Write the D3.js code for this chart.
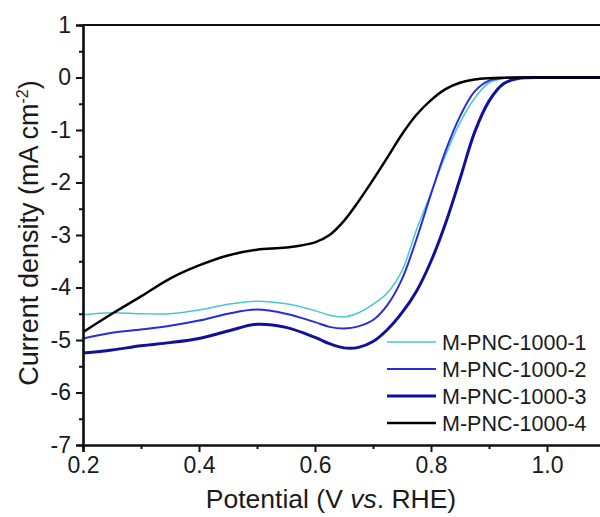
<!DOCTYPE html>
<html>
<head>
<meta charset="utf-8">
<script src="https://cdn.jsdelivr.net/npm/d3@7"></script>
<style>
  body { margin: 0; background: #fff; }
  svg text { font-family: "Liberation Sans", Arial, sans-serif; fill: #1a1a1a; }
</style>
</head>
<body>
<div class="chart"></div>
<script>
const potential = [0.20, 0.25, 0.30, 0.35, 0.40, 0.45, 0.50, 0.55, 0.60, 0.625, 0.65, 0.675, 0.70,
    0.725, 0.75, 0.775, 0.80, 0.825, 0.85, 0.875, 0.90, 0.925, 0.95, 1.00, 1.05, 1.10];

const pnc1 = [-4.52, -4.48, -4.50, -4.50, -4.43, -4.32, -4.26, -4.31, -4.44, -4.53, -4.56, -4.48, -4.32,
    -4.10, -3.68, -2.90, -2.20, -1.48, -0.86, -0.40, -0.10, -0.02, 0, 0, 0, 0];
const pnc2 = [-4.97, -4.86, -4.80, -4.73, -4.63, -4.50, -4.42, -4.50, -4.66, -4.75, -4.78, -4.74, -4.62,
    -4.33, -3.84, -3.08, -2.22, -1.40, -0.74, -0.27, -0.06, -0.01, 0, 0, 0, 0];
const pnc3 = [-5.25, -5.19, -5.11, -5.05, -4.97, -4.83, -4.70, -4.76, -4.95, -5.07, -5.15, -5.14, -5.03,
    -4.80, -4.48, -4.07, -3.50, -2.78, -1.93, -1.05, -0.45, -0.12, -0.02, 0, 0, 0];
const pnc4 = [-4.85, -4.50, -4.17, -3.83, -3.58, -3.39, -3.28, -3.24, -3.14, -3.00, -2.73, -2.36, -1.95,
    -1.52, -1.08, -0.71, -0.43, -0.22, -0.10, -0.04, -0.015, -0.005, 0, 0, 0, 0];

const seriesNames = ['M-PNC-1000-1', 'M-PNC-1000-2', 'M-PNC-1000-3', 'M-PNC-1000-4'];
const seriesValues = [pnc1, pnc2, pnc3, pnc4];
const seriesColors = ['#45c8d2', '#2a2ae0', '#10109c', '#000000'];
const seriesWidths = [1.5, 2, 3, 2.5];

const xTicks = [0.2, 0.4, 0.6, 0.8, 1.0];
const yTicks = [1, 0, -1, -2, -3, -4, -5, -6, -7];

const width = 600, height = 517;
const svg = d3.select('.chart').append('svg')
    .attr('width', width)
    .attr('height', height);

// plot area: 0.2 V at 83px, 1.0 V at 547px; +1 at 25px, -7 at 445px
const x = d3.scaleLinear().domain([0.2, 1.1]).range([83, 605]);
const y = d3.scaleLinear().domain([-7, 1]).range([445, 25]);

svg.append('clipPath').attr('id', 'plot')
    .append('rect').attr('x', 83).attr('y', 25).attr('width', 522).attr('height', 420);

const line = d3.line()
    .x((d, i) => x(potential[i]))
    .y(d => y(d))
    .curve(d3.curveCatmullRom.alpha(0.5));

svg.append('g').attr('clip-path', 'url(#plot)')
    .selectAll('path')
    .data(seriesValues)
    .enter()
    .append('path')
    .attr('d', d => line(d))
    .attr('fill', 'none')
    .attr('stroke', (d, i) => seriesColors[i])
    .attr('stroke-width', (d, i) => seriesWidths[i])
    .attr('stroke-linejoin', 'round');

// axes
const xAxis = svg.append('g')
    .attr('transform', `translate(0,${y(-7)})`)
    .call(d3.axisBottom(x).tickValues(xTicks).tickFormat(d3.format('.1f')).tickSize(7).tickPadding(5));
const xMinor = svg.append('g')
    .attr('transform', `translate(0,${y(-7)})`)
    .call(d3.axisBottom(x).tickValues([0.3, 0.5, 0.7, 0.9, 1.1]).tickFormat('').tickSize(4));

const yAxis = svg.append('g')
    .attr('transform', `translate(${x(0.2)},0)`)
    .call(d3.axisLeft(y).tickValues(yTicks).tickFormat(d3.format('d')).tickSize(7).tickPadding(5));
const yMinor = svg.append('g')
    .attr('transform', `translate(${x(0.2)},0)`)
    .call(d3.axisLeft(y).tickValues(d3.range(-6.5, 1, 1)).tickFormat('').tickSize(4));

[xAxis, xMinor, yAxis, yMinor].forEach(g => {
    g.select('.domain').attr('stroke', '#111').attr('stroke-width', 2.2);
    g.selectAll('.tick line').attr('stroke', '#111').attr('stroke-width', 2);
    g.selectAll('.tick text').attr('font-size', 23).attr('fill', '#1a1a1a')
        .style('font-family', '"Liberation Sans", Arial, sans-serif');
});
yAxis.selectAll('.tick text').text(d => d < 0 ? '-' + Math.abs(d) : d);

// top frame line
svg.append('line')
    .attr('x1', x(0.2)).attr('x2', width)
    .attr('y1', y(1)).attr('y2', y(1))
    .attr('stroke', '#111').attr('stroke-width', 2.2);

// axis titles
svg.append('text')
    .attr('x', 331).attr('y', 508)
    .attr('text-anchor', 'middle')
    .attr('font-size', 26.5)
    .html('Potential (V <tspan font-style="italic">vs</tspan>. RHE)');

const yt = svg.append('text')
    .attr('transform', 'translate(38,233) rotate(-90)')
    .attr('text-anchor', 'middle')
    .attr('font-size', 27);
yt.append('tspan').text('Current density (mA cm');
yt.append('tspan').attr('font-size', 16).attr('dy', -10).text('-2');
yt.append('tspan').attr('dy', 10).text(')');

// legend
const legend = svg.append('g');
seriesNames.forEach((name, i) => {
    const ly = 342 + i * 27;
    legend.append('line')
        .attr('x1', 387).attr('x2', 436)
        .attr('y1', ly).attr('y2', ly)
        .attr('stroke', seriesColors[i])
        .attr('stroke-width', seriesWidths[i]);
    legend.append('text')
        .attr('x', 442).attr('y', ly)
        .attr('dy', '.36em')
        .attr('font-size', 21.5)
        .text(name);
});
</script>
</body>
</html>
